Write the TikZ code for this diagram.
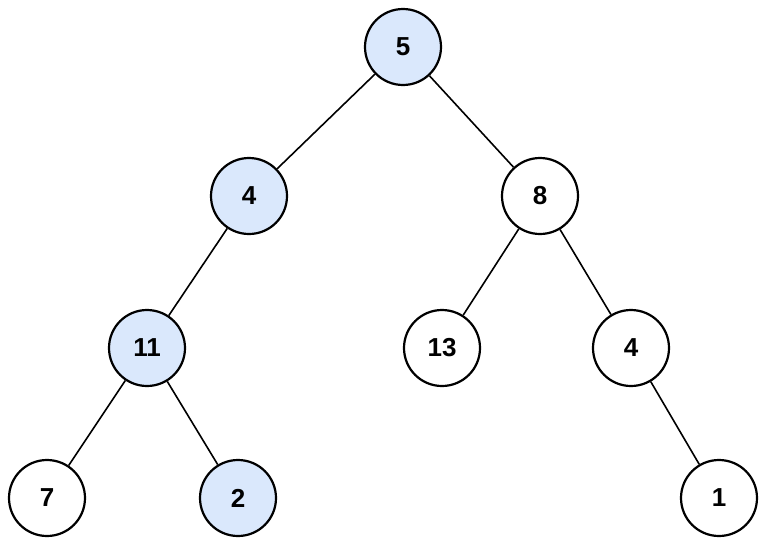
\documentclass[tikz,border=0pt]{standalone}
\usepackage{fontspec}
\setmainfont{Liberation Sans}
\definecolor{hl}{HTML}{DAE8FC}
\begin{document}
\begin{tikzpicture}[x=1pt,y=-1pt,
  tn/.style={circle,draw=black,line width=2.2pt,minimum size=76pt,inner sep=0pt,font=\fontsize{26}{30}\selectfont\bfseries,fill=white},
  hn/.style={tn,fill=hl},
  edge/.style={line width=1.6pt,black}]
\useasboundingbox (0,0) rectangle (765,549);
\node[hn] (n5) at (403,47) {5};
\node[hn] (n4) at (249,196) {4};
\node[tn] (n8) at (540,196) {8};
\node[hn] (n11) at (147,348) {11};
\node[tn] (n13) at (442,348) {13};
\node[tn] (n4b) at (631,348) {4};
\node[tn] (n7) at (47,498) {7};
\node[hn] (n2) at (238,498) {2};
\node[tn] (n1) at (719,498) {1};
\draw[edge] (n5) -- (n4);
\draw[edge] (n5) -- (n8);
\draw[edge] (n4) -- (n11);
\draw[edge] (n8) -- (n13);
\draw[edge] (n8) -- (n4b);
\draw[edge] (n11) -- (n7);
\draw[edge] (n11) -- (n2);
\draw[edge] (n4b) -- (n1);
\end{tikzpicture}
\end{document}
